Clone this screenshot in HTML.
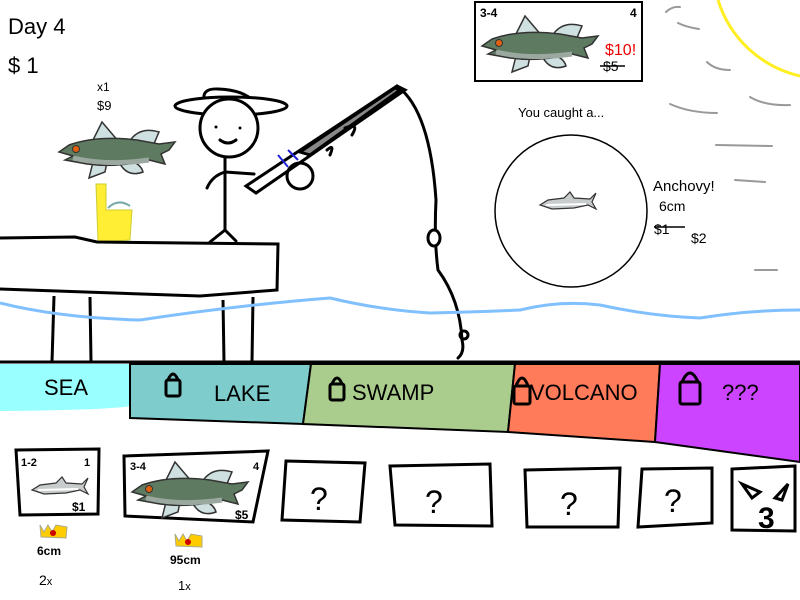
<!DOCTYPE html>
<html><head><meta charset="utf-8"><style>
html,body{margin:0;padding:0;background:#fff;}
svg{display:block;}
text{font-family:"Liberation Sans","DejaVu Sans",sans-serif;}
</style></head><body>
<svg width="800" height="600" viewBox="0 0 800 600" xmlns="http://www.w3.org/2000/svg">
<defs>
<g id="bass">
  <path d="M35 22 L45 2 L62 22 Z" fill="#cfe0e0" stroke="#333" stroke-width="1.5"/>
  <path d="M72 22 Q82 6 102 12 L96 26 Z" fill="#cfe0e0" stroke="#333" stroke-width="1.5"/>
  <path d="M36 42 L32 58 L48 52 L50 42 Z" fill="#cfe0e0" stroke="#333" stroke-width="1.5"/>
  <path d="M62 42 Q70 58 86 52 Q84 44 72 40 Z" fill="#cfe0e0" stroke="#333" stroke-width="1.5"/>
  <path d="M2 32 L12 25 Q40 15 80 20 L102 24 L118 22 L112 30 L104 34 L108 44 L92 40 Q60 48 30 44 L8 40 L16 36 Z" fill="#5e7a60" stroke="#333" stroke-width="1.5"/>
  <path d="M16 38 Q50 46 92 40" stroke="#9aa8a0" stroke-width="5" fill="none"/>
  <circle cx="19" cy="29" r="3.5" fill="#e06010" stroke="#333"/>
</g>
<g id="anch">
  <path d="M2 16 L10 11 L26 9 L32 3 L36 9 L52 10 L58 4 L54 13 L58 20 L50 16 L36 19 L14 20 Z" fill="#c8cccc" stroke="#333" stroke-width="1.2"/>
  <path d="M8 16 L48 15" stroke="#fff" stroke-width="2"/>
</g>
</defs>

<text x="8" y="34" font-size="22">Day 4</text>
<text x="8" y="73" font-size="22">$ 1</text>

<path d="M718 0 A112 112 0 0 0 800 76" fill="none" stroke="#ffee22" stroke-width="3"/>
<g stroke="#999" stroke-width="2" fill="none" stroke-linecap="round">
<path d="M666 12 Q672 6 680 7"/><path d="M678 23 Q686 27 699 29"/>
<path d="M707 62 Q715 70 730 70"/><path d="M750 97 Q765 106 790 105"/>
<path d="M670 104 Q690 113 717 113"/><path d="M716 145 L772 146"/>
<path d="M735 180 L765 182"/><path d="M755 270 L777 270"/>
</g>

<rect x="475" y="2" width="167" height="79" fill="#fff" stroke="#000" stroke-width="2"/>
<text x="480" y="17" font-size="12" font-weight="bold">3-4</text>
<text x="630" y="17" font-size="12" font-weight="bold">4</text>
<use href="#bass" x="480" y="14"/>
<text x="605" y="55" font-size="16" fill="#e00">$10!</text>
<text x="603" y="71" font-size="14">$5</text>
<line x1="600" y1="66" x2="625" y2="66" stroke="#000" stroke-width="1.5"/>

<text x="518" y="117" font-size="13">You caught a...</text>
<circle cx="571" cy="211" r="76" fill="#fff" stroke="#000" stroke-width="1.5"/>
<use href="#anch" x="538" y="189"/>
<text x="653" y="191" font-size="15">Anchovy!</text>
<text x="659" y="211" font-size="14">6cm</text>
<text x="654" y="234" font-size="14">$1</text>
<line x1="654" y1="227" x2="685" y2="227" stroke="#000" stroke-width="1.5"/>
<text x="691" y="243" font-size="14">$2</text>

<text x="97" y="91" font-size="12">x1</text>
<text x="97" y="110" font-size="13">$9</text>
<use href="#bass" x="57" y="120"/>
<path d="M96 184 L106 184 L106 210 L132 210 L130 240 L98 242 Z" fill="#ffee33" stroke="#cc3" stroke-width="1"/>
<path d="M108 208 Q118 198 130 206" stroke="#7aa" stroke-width="2" fill="none"/>

<g stroke="#000" stroke-width="3" fill="none" stroke-linecap="round">
<path d="M205 103 Q200 88 218 89 Q245 90 255 103" fill="#fff"/>
<ellipse cx="231" cy="106" rx="56" ry="9" fill="#fff"/>
<circle cx="229" cy="128" r="29" fill="#fff"/>
<path d="M220 140 Q228 146 236 140"/>
<line x1="225" y1="157" x2="225" y2="230"/>
<path d="M225 172 Q212 176 207 188"/>
<path d="M225 172 L254 174"/>
<path d="M225 230 L210 242 M225 230 L236 241"/>
</g>
<circle cx="216" cy="127" r="1.5"/><circle cx="240" cy="128" r="1.5"/>

<g stroke="#000" stroke-width="3" fill="none" stroke-linecap="round">
<path d="M246 186 L397 86 L405 90 L256 193 Z" fill="#fff"/>
<path d="M300 152 L395 88 L400 90 L310 155 Z" fill="#888"/>
<circle cx="300" cy="176" r="13"/>
<path d="M327 150 Q335 143 330 155"/><path d="M345 128 Q360 122 352 135"/>
<path d="M397 86 Q430 110 436 200 Q434 240 438 270 Q460 300 462 340 Q465 352 458 358"/>
<ellipse cx="434" cy="238" rx="6" ry="8" fill="#fff"/>
<circle cx="464" cy="335" r="4"/>
</g>
<line x1="278" y1="155" x2="288" y2="167" stroke="#22d" stroke-width="2"/>
<line x1="288" y1="150" x2="298" y2="160" stroke="#22d" stroke-width="2"/>

<g stroke="#000" stroke-width="3" fill="none">
<path d="M0 238 L75 237 L97 242 L278 244 L277 290 L200 296 L0 289" fill="#fff"/>
<line x1="54" y1="296" x2="52" y2="362"/><line x1="90" y1="297" x2="91" y2="362"/>
<line x1="223" y1="300" x2="224" y2="362"/><line x1="253" y1="297" x2="252" y2="362"/>
</g>
<path d="M0 303 Q60 318 140 320 Q240 305 330 298 Q380 310 430 313 Q480 312 520 310 Q560 300 600 305 Q650 316 700 318 Q750 310 800 310" stroke="#80c0ff" stroke-width="3" fill="none"/>

<line x1="0" y1="362" x2="800" y2="362" stroke="#000" stroke-width="3"/>
<path d="M0 364 L130 364 L130 406 Q110 410 0 411 Z" fill="#99ffff"/>
<path d="M130 364 L311 364 L303 424 L130 418 Z" fill="#7ecccc" stroke="#000" stroke-width="2"/>
<path d="M311 364 L515 364 L508 432 L303 424 Z" fill="#aacc8c" stroke="#000" stroke-width="2"/>
<path d="M515 364 L660 364 L655 442 L508 432 Z" fill="#ff7b5a" stroke="#000" stroke-width="2"/>
<path d="M660 364 L800 364 L800 462 L655 442 Z" fill="#cc44ff" stroke="#000" stroke-width="2"/>
<text x="44" y="395" font-size="22">SEA</text>
<text x="214" y="401" font-size="22">LAKE</text>
<text x="352" y="400" font-size="22">SWAMP</text>
<text x="530" y="400" font-size="22">VOLCANO</text>
<text x="722" y="400" font-size="22">???</text>
<g stroke="#000" stroke-width="3" fill="none">
<rect x="166" y="380" width="14" height="16" rx="2"/><path d="M168 380 Q173 368 178 380"/>
<rect x="330" y="384" width="14" height="16" rx="2"/><path d="M332 384 Q337 372 342 384"/>
<rect x="514" y="386" width="16" height="18" rx="2"/><path d="M516 386 Q522 370 528 386"/>
<rect x="680" y="382" width="20" height="22" rx="2"/><path d="M682 382 Q690 364 698 382"/>
</g>

<g stroke="#000" stroke-width="3" fill="#fff">
<path d="M16 450 L99 449 L98 514 L20 515 Z"/>
<path d="M124 456 L268 451 L253 522 L125 516 Z"/>
<path d="M286 461 L365 463 L360 522 L282 520 Z"/>
<path d="M390 466 L490 464 L492 526 L395 525 Z"/>
<path d="M525 470 L620 468 L618 527 L527 527 Z"/>
<path d="M642 469 L712 468 L712 523 L638 527 Z"/>
<path d="M732 469 L795 466 L795 531 L732 530 Z"/>
</g>
<text x="21" y="466" font-size="11" font-weight="bold">1-2</text>
<text x="84" y="466" font-size="11" font-weight="bold">1</text>
<use href="#anch" x="30" y="474"/>
<text x="72" y="511" font-size="12" font-weight="bold">$1</text>
<text x="130" y="470" font-size="11" font-weight="bold">3-4</text>
<text x="253" y="470" font-size="11" font-weight="bold">4</text>
<use href="#bass" x="130" y="460"/>
<text x="235" y="519" font-size="12" font-weight="bold">$5</text>
<g font-size="32" fill="#000">
<text x="310" y="510">?</text><text x="425" y="513">?</text><text x="560" y="515">?</text><text x="664" y="512">?</text>
</g>
<path d="M742 484 L752 498 L760 492 Z M788 484 L775 498 L782 500 Z" fill="#fff" stroke="#000" stroke-width="3"/>
<text x="758" y="528" font-size="30" font-weight="bold">3</text>

<path d="M40 525 L44 532 L48 525 L52 532 L56 525 L67 527 L66 538 L41 537 Z" fill="#ffcc00" stroke="#aa8" stroke-width="1"/>
<circle cx="53" cy="533" r="3" fill="#c00"/>
<path d="M175 534 L179 541 L183 534 L187 541 L191 534 L202 536 L202 547 L176 546 Z" fill="#ffcc00" stroke="#aa8" stroke-width="1"/>
<circle cx="188" cy="542" r="3" fill="#c00"/>
<text x="37" y="555" font-size="12" font-weight="bold">6cm</text>
<text x="170" y="564" font-size="12" font-weight="bold">95cm</text>
<text x="39" y="585" font-size="14">2<tspan font-size="11">x</tspan></text>
<text x="178" y="590" font-size="13">1<tspan font-size="11">x</tspan></text>
</svg>
</body></html>
